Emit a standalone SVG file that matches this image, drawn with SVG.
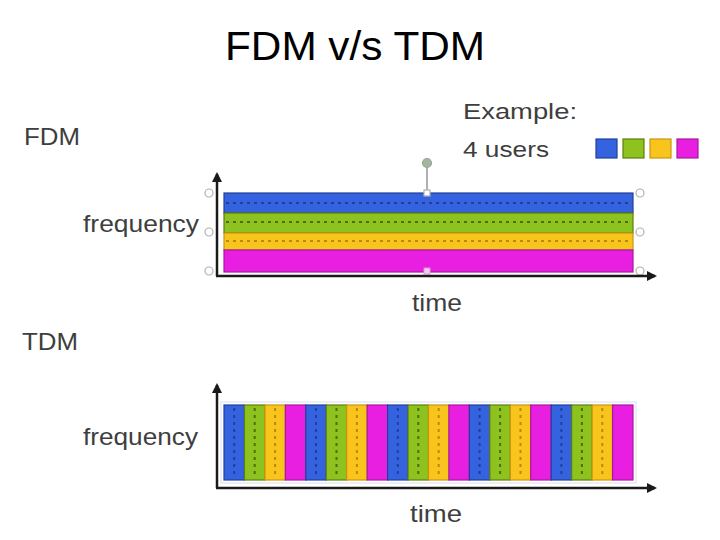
<svg xmlns="http://www.w3.org/2000/svg" width="720" height="540" viewBox="0 0 720 540">
<defs>
<style>
.t{font-family:"Liberation Sans",Arial,sans-serif;fill:#3e3e3e}
.ttl{font-family:"Liberation Sans",Arial,sans-serif;fill:#000}
.ax{stroke:#1a1a1a;stroke-width:2.5;fill:none}
.b{fill:#3563e0;stroke:#22409a;stroke-width:1.2}
.g{fill:#8ec21e;stroke:#5e7e12;stroke-width:1.2}
.y{fill:#f9c41c;stroke:#c8960e;stroke-width:1.2}
.m{fill:#e81ee0;stroke:#a8189e;stroke-width:1.2}
.db{stroke:#1f3f9a;stroke-width:2;stroke-dasharray:3 4;fill:none}
.dg{stroke:#4d6e0c;stroke-width:2;stroke-dasharray:3 4;fill:none}
.dy{stroke:#b88a10;stroke-width:2;stroke-dasharray:3 4;fill:none}
.h{fill:#fff;stroke:#b0b0b0;stroke-width:1.2}
</style>
<marker id="ar" viewBox="0 0 10 10" refX="8" refY="5" markerWidth="4" markerHeight="4" orient="auto">
<path d="M0,0 L10,5 L0,10 z" fill="#1a1a1a"/>
</marker>
</defs>
<rect width="720" height="540" fill="#fff"/>

<g id="title"><text class="ttl" x="225" y="60" font-size="40" textLength="260" lengthAdjust="spacingAndGlyphs">FDM v/s TDM</text></g>

<g id="legend">
<text class="t" x="463" y="119" font-size="22" textLength="114" lengthAdjust="spacingAndGlyphs">Example:</text>
<text class="t" x="463" y="157" font-size="22" textLength="86" lengthAdjust="spacingAndGlyphs">4 users</text>
<rect class="b" x="596" y="139" width="21" height="19"/>
<rect class="g" x="623" y="139" width="21" height="19"/>
<rect class="y" x="650" y="139" width="21" height="19"/>
<rect class="m" x="677" y="139" width="21" height="19"/>
</g>

<g id="fdm">
<text class="t" x="24" y="145" font-size="23" textLength="56" lengthAdjust="spacingAndGlyphs">FDM</text>
<text class="t" x="83" y="232" font-size="24" textLength="116" lengthAdjust="spacingAndGlyphs">frequency</text>
<text class="t" x="412" y="311" font-size="24" textLength="50" lengthAdjust="spacingAndGlyphs">time</text>
<rect class="b" x="224" y="193" width="409" height="20"/>
<rect class="g" x="224" y="213" width="409" height="20"/>
<rect class="y" x="224" y="233" width="409" height="17"/>
<rect class="m" x="224" y="250" width="409" height="22"/>
<path class="db" d="M226,203 H631"/>
<path class="dg" d="M226,222 H631"/>
<path class="dy" d="M226,241 H631"/>
<g id="handles">
<line x1="427" y1="167" x2="427" y2="193" stroke="#b0b0b0" stroke-width="2"/>
<circle cx="427" cy="163" r="4.5" fill="#9fb89a" stroke="#a0a0a0" stroke-width="1.2"/>
<rect class="h" x="424" y="190" width="6" height="6"/>
<rect x="424" y="268" width="6" height="6" fill="#f6c8f0" stroke="#d0a0d0" stroke-width="1"/>
<circle class="h" cx="209" cy="193" r="4"/>
<circle class="h" cx="209" cy="232" r="4"/>
<circle class="h" cx="209" cy="271" r="4"/>
<circle class="h" cx="640" cy="193" r="4"/>
<circle class="h" cx="640" cy="232" r="4"/>
<circle class="h" cx="640" cy="271" r="4"/>
</g>
</g>

<g id="tdm">
<text class="t" x="22" y="350" font-size="23" textLength="56" lengthAdjust="spacingAndGlyphs">TDM</text>
<text class="t" x="83" y="445" font-size="24" textLength="115" lengthAdjust="spacingAndGlyphs">frequency</text>
<text class="t" x="410" y="522" font-size="24" textLength="52" lengthAdjust="spacingAndGlyphs">time</text>
<rect x="221" y="402" width="415" height="81" fill="none" stroke="#eceef8" stroke-width="2"/>
<g id="stripes">
<rect class="b" x="224" y="405" width="20.45" height="75"/>
<rect class="g" x="244.45" y="405" width="20.45" height="75"/>
<rect class="y" x="264.9" y="405" width="20.45" height="75"/>
<rect class="m" x="285.35" y="405" width="20.45" height="75"/>
<rect class="b" x="305.8" y="405" width="20.45" height="75"/>
<rect class="g" x="326.25" y="405" width="20.45" height="75"/>
<rect class="y" x="346.7" y="405" width="20.45" height="75"/>
<rect class="m" x="367.15" y="405" width="20.45" height="75"/>
<rect class="b" x="387.6" y="405" width="20.45" height="75"/>
<rect class="g" x="408.05" y="405" width="20.45" height="75"/>
<rect class="y" x="428.5" y="405" width="20.45" height="75"/>
<rect class="m" x="448.95" y="405" width="20.45" height="75"/>
<rect class="b" x="469.4" y="405" width="20.45" height="75"/>
<rect class="g" x="489.85" y="405" width="20.45" height="75"/>
<rect class="y" x="510.3" y="405" width="20.45" height="75"/>
<rect class="m" x="530.75" y="405" width="20.45" height="75"/>
<rect class="b" x="551.2" y="405" width="20.45" height="75"/>
<rect class="g" x="571.65" y="405" width="20.45" height="75"/>
<rect class="y" x="592.1" y="405" width="20.45" height="75"/>
<rect class="m" x="612.55" y="405" width="20.45" height="75"/>
</g>
<path class="db" d="M234.2,408 V478 M316,408 V478 M397.8,408 V478 M479.6,408 V478 M561.4,408 V478"/>
<path class="dg" d="M254.7,408 V478 M336.5,408 V478 M418.3,408 V478 M500.1,408 V478 M581.9,408 V478"/>
<path class="dy" d="M275.1,408 V478 M356.9,408 V478 M438.7,408 V478 M520.5,408 V478 M602.3,408 V478"/>
</g>

<g id="connectors">
<path class="ax" d="M217,276 V174" marker-end="url(#ar)"/>
<path class="ax" d="M216,276 H655" marker-end="url(#ar)"/>
<path class="ax" d="M217,488 V385" marker-end="url(#ar)"/>
<path class="ax" d="M216,488 H655" marker-end="url(#ar)"/>
</g>
</svg>
